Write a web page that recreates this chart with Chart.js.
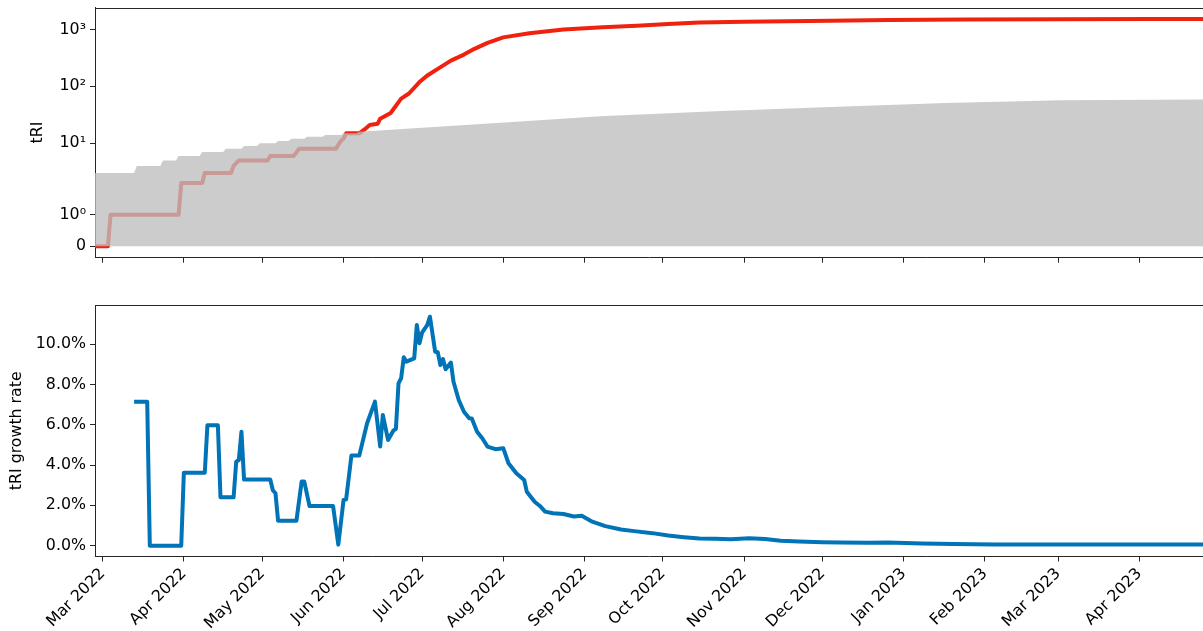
<!DOCTYPE html>
<html><head><meta charset="utf-8">
<script src="https://cdn.jsdelivr.net/npm/chart.js@4.4.1/dist/chart.umd.min.js"></script>
<style>
html,body{margin:0;padding:0;background:#fff;}
#wrap{position:relative;width:1203px;height:631px;overflow:hidden;background:#fff;}
#wrap canvas{position:absolute;left:0;}
</style></head><body>
<div id="wrap">
<canvas id="cTop" width="1203" height="275" style="top:0px"></canvas>
<canvas id="cBot" width="1203" height="351" style="top:280px"></canvas>
</div>
<script>
// ---------- DATA ----------
const monthTickDates = ['2022-03-01','2022-04-01','2022-05-01','2022-06-01','2022-07-01','2022-08-01','2022-09-01','2022-10-01','2022-11-01','2022-12-01','2023-01-01','2023-02-01','2023-03-01','2023-04-01'];
const monthTickLabels = ['Mar 2022','Apr 2022','May 2022','Jun 2022','Jul 2022','Aug 2022','Sep 2022','Oct 2022','Nov 2022','Dec 2022','Jan 2023','Feb 2023','Mar 2023','Apr 2023'];

const triTickValues = [0, 1, 10, 100, 1000];
const triTickLabels = ['0', '10\u2070', '10\u00b9', '10\u00b2', '10\u00b3'];

const rateTickValues = [0, 2, 4, 6, 8, 10];

const redDates = ['2022-02-26','2022-03-03','2022-03-04','2022-03-30','2022-03-31','2022-04-08','2022-04-09','2022-04-19','2022-04-20','2022-04-22','2022-05-03','2022-05-04','2022-05-13','2022-05-15','2022-05-29','2022-05-31','2022-06-01','2022-06-02','2022-06-07','2022-06-09','2022-06-11','2022-06-14','2022-06-15','2022-06-19','2022-06-23','2022-06-26','2022-06-30','2022-07-03','2022-07-07','2022-07-12','2022-07-17','2022-07-21','2022-07-26','2022-08-01','2022-08-11','2022-08-24','2022-09-08','2022-09-21','2022-10-03','2022-10-15','2022-11-01','2022-12-04','2022-12-26','2023-01-25','2023-03-02','2023-04-05','2023-04-26'];
const redValues = [0,0,1,1,2,2,3,3,4,5,5,6,6,8,8,11,12,15,15,17.5,21,22,27,34,61,75,119,155,203,284,362,456,580,726,860,1000,1090,1163,1250,1320,1370,1424,1465,1490,1505,1520,1530];

const greyDates = ['2022-02-26','2022-03-13','2022-03-14','2022-03-23','2022-03-24','2022-03-29','2022-03-30','2022-04-07','2022-04-08','2022-04-16','2022-04-17','2022-04-23','2022-04-24','2022-04-29','2022-04-30','2022-05-06','2022-05-07','2022-05-11','2022-05-12','2022-05-17','2022-05-18','2022-05-24','2022-05-25','2022-05-31','2022-06-01','2022-06-06','2022-06-07','2022-06-22','2022-07-16','2022-08-06','2022-09-07','2022-10-21','2022-12-04','2023-01-17','2023-03-02','2023-04-26'];
const greyValues = [3,3,4,4,5,5,6,6,7,7,8,8,9,9,10,10,11,11,12,12,13,13,14,14,15,15,16,17.6,20.8,23.9,29.9,36.5,43.4,51,56.8,59];

const rateDates = ['2022-03-13','2022-03-18','2022-03-19','2022-03-31','2022-04-01','2022-04-09','2022-04-10','2022-04-14','2022-04-15','2022-04-20','2022-04-21','2022-04-22','2022-04-23','2022-04-24','2022-05-04','2022-05-05','2022-05-06','2022-05-07','2022-05-14','2022-05-16','2022-05-17','2022-05-19','2022-05-28','2022-05-30','2022-06-01','2022-06-02','2022-06-04','2022-06-07','2022-06-10','2022-06-13','2022-06-15','2022-06-16','2022-06-18','2022-06-20','2022-06-21','2022-06-22','2022-06-23','2022-06-24','2022-06-25','2022-06-28','2022-06-29','2022-06-30','2022-07-01','2022-07-03','2022-07-04','2022-07-06','2022-07-07','2022-07-08','2022-07-09','2022-07-10','2022-07-12','2022-07-13','2022-07-15','2022-07-17','2022-07-19','2022-07-20','2022-07-22','2022-07-24','2022-07-26','2022-07-29','2022-08-01','2022-08-03','2022-08-06','2022-08-09','2022-08-10','2022-08-13','2022-08-15','2022-08-17','2022-08-20','2022-08-24','2022-08-28','2022-08-31','2022-09-04','2022-09-09','2022-09-15','2022-09-20','2022-09-27','2022-10-03','2022-10-09','2022-10-15','2022-10-21','2022-10-27','2022-11-03','2022-11-09','2022-11-15','2022-11-22','2022-12-01','2022-12-08','2022-12-18','2022-12-26','2023-01-08','2023-01-20','2023-02-05','2023-02-25','2023-03-20','2023-04-05','2023-04-26'];
const rateValues = [7.15,7.15,0,0,3.62,3.62,5.98,5.98,2.4,2.4,4.17,4.25,5.66,3.28,3.28,2.75,2.6,1.23,1.23,3.18,3.18,1.97,1.97,0.05,2.27,2.3,4.47,4.47,6.08,7.15,4.92,6.49,5.25,5.71,5.8,8.06,8.31,9.35,9.14,9.3,10.96,10.05,10.58,10.96,11.37,9.63,9.6,8.97,9.26,8.76,9.09,8.14,7.23,6.65,6.33,6.31,5.66,5.33,4.92,4.79,4.84,4.09,3.59,3.26,2.68,2.18,1.97,1.69,1.61,1.57,1.45,1.48,1.19,0.97,0.8,0.72,0.62,0.5,0.42,0.35,0.34,0.32,0.37,0.33,0.24,0.21,0.17,0.15,0.14,0.15,0.1,0.08,0.06,0.05,0.06,0.05,0.05];

// ---------- HELPERS ----------
const BASE = Date.UTC(2022, 2, 1);
function dayOf(s){ const p = s.split('-').map(Number); return (Date.UTC(p[0], p[1]-1, p[2]) - BASE) / 86400000; }
function pts(dates, vals){ return dates.map((d,i)=>({x: dayOf(d), y: vals[i]})); }
const monthTicks = monthTickDates.map(dayOf);
const X_MIN = -2.94, X_MAX = 420.3;

// symlog transform (linthresh 2, linscale 1, base 10)
const LT = 2, LS = 1/(1-1/10);
function symT(v){ const a = Math.abs(v), s = Math.sign(v); return a <= LT ? v*LS : s*LT*(LS + Math.log10(a/LT)); }
function symInv(t){ const a = Math.abs(t), s = Math.sign(t); return a <= LT*LS ? t/LS : s*LT*Math.pow(10, a/LT - LS); }

class SymlogScale extends Chart.Scale {
  determineDataLimits(){
    const mm = this.getMinMax(false);
    this.min = (this.options.min !== undefined) ? this.options.min : mm.min;
    this.max = (this.options.max !== undefined) ? this.options.max : mm.max;
  }
  buildTicks(){ return []; }
  getLabelForValue(v){ return String(v); }
  configure(){ super.configure(); this._t0 = symT(this.min); this._t1 = symT(this.max); }
  getPixelForValue(v){ return this.getPixelForDecimal((symT(v) - this._t0) / (this._t1 - this._t0)); }
  getValueForPixel(p){ return symInv(this._t0 + this.getDecimalForPixel(p) * (this._t1 - this._t0)); }
}
SymlogScale.id = 'symlog';
SymlogScale.defaults = {};
Chart.register(SymlogScale);

Chart.defaults.font.family = "'DejaVu Sans', sans-serif";
Chart.defaults.font.size = 15.8;
Chart.defaults.color = '#000';
Chart.defaults.animation = false;

const SPINE = '#262626';
const topSpine = { id: 'topSpine', afterDraw(chart){
  const {ctx, chartArea: a} = chart; ctx.save(); ctx.strokeStyle = SPINE; ctx.lineWidth = 1;
  ctx.beginPath(); ctx.moveTo(a.left, Math.round(a.top) + 0.5); ctx.lineTo(a.right, Math.round(a.top) + 0.5); ctx.stroke(); ctx.restore(); } };

function gridOpts(){ return { display: true, drawOnChartArea: false, drawTicks: true, tickLength: 5, tickWidth: 1, tickColor: SPINE }; }
function borderOpts(){ return { display: true, color: SPINE, width: 1 }; }

function xAxis(showLabels, h){
  return {
    type: 'linear', min: X_MIN, max: X_MAX,
    grid: gridOpts(), border: borderOpts(),
    ticks: { display: showLabels, autoSkip: false, minRotation: 45, maxRotation: 45, padding: 3,
             callback: (v, i) => monthTickLabels[i] },
    afterBuildTicks: s => { s.ticks = monthTicks.map(v => ({value: v})); },
    afterFit: s => { s.height = h; s.paddingLeft = 0; s.paddingRight = 0; }
  };
}
function fixY(s){ s.width = 95; s.paddingTop = 0; s.paddingBottom = 0; }

new Chart(document.getElementById('cTop'), {
  type: 'line',
  data: { datasets: [
    { label: 'bound', data: pts(greyDates, greyValues), order: 1, borderWidth: 0, pointRadius: 0,
      fill: 'origin', backgroundColor: 'rgba(189,189,189,0.775)', borderColor: 'rgba(0,0,0,0)' },
    { label: 'tRI', data: pts(redDates, redValues), order: 2, borderWidth: 4, pointRadius: 0,
      borderColor: '#f0220f', fill: false, borderJoinStyle: 'round', borderCapStyle: 'butt' }
  ]},
  options: {
    responsive: false, animation: false,
    layout: { padding: { top: 7.5, left: 0, right: 0, bottom: 0 } },
    plugins: { legend: { display: false }, tooltip: { enabled: false } },
    scales: {
      x: xAxis(false, 17.3),
      y: { type: 'symlog', position: 'left', min: -0.36, max: 2430,
           grid: gridOpts(), border: borderOpts(),
           ticks: { padding: 4, autoSkip: false, callback: (v, i) => triTickLabels[i] },
           afterBuildTicks: s => { s.ticks = triTickValues.map(v => ({value: v})); },
           afterFit: fixY,
           title: { display: true, text: 'tRI', padding: { top: 28, bottom: 0 } } }
    }
  },
  plugins: [topSpine]
});

new Chart(document.getElementById('cBot'), {
  type: 'line',
  data: { datasets: [
    { label: 'tRI growth rate', data: pts(rateDates, rateValues), borderWidth: 4, pointRadius: 0,
      borderColor: '#0173b7', fill: false, borderJoinStyle: 'round', borderCapStyle: 'butt' }
  ]},
  options: {
    responsive: false, animation: false,
    layout: { padding: { top: 25, left: 0, right: 0, bottom: 0 } },
    plugins: { legend: { display: false }, tooltip: { enabled: false } },
    scales: {
      x: xAxis(true, 74.5),
      y: { type: 'linear', position: 'left', min: -0.54, max: 11.95,
           grid: gridOpts(), border: borderOpts(),
           ticks: { padding: 4, autoSkip: false, callback: v => v.toFixed(1) + '%' },
           afterBuildTicks: s => { s.ticks = rateTickValues.map(v => ({value: v})); },
           afterFit: fixY,
           title: { display: true, text: 'tRI growth rate', padding: { top: 7, bottom: 0 } } }
    }
  },
  plugins: [topSpine]
});
</script>
</body></html>
